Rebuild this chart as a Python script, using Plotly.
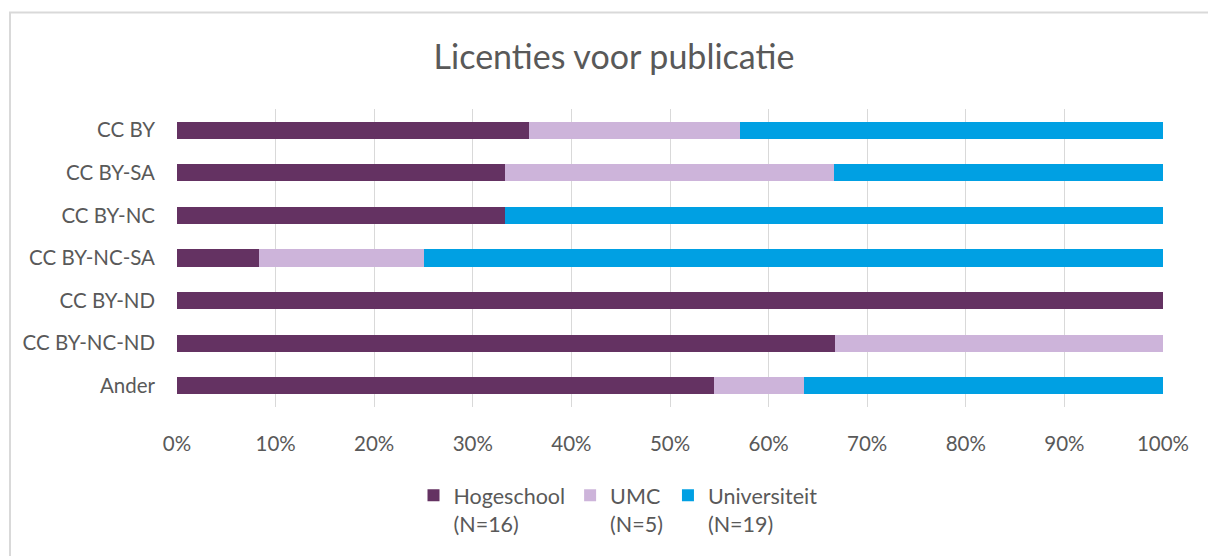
import plotly.graph_objects as go

categories = ["CC BY", "CC BY-SA", "CC BY-NC", "CC BY-NC-SA", "CC BY-ND", "CC BY-NC-ND", "Ander"]
hogeschool = [35.7, 33.3, 33.3, 8.3, 100.0, 66.7, 54.5]
umc = [21.4, 33.3, 0.0, 16.7, 0.0, 33.3, 9.1]
universiteit = [42.9, 33.4, 66.7, 75.0, 0.0, 0.0, 36.4]
series_names = ["Hogeschool<br>(N=16)", "UMC<br>(N=5)", "Universiteit<br>(N=19)"]
colors = ["#643262", "#CDB4DA", "#00A0E3"]
x_ticks = [0, 10, 20, 30, 40, 50, 60, 70, 80, 90, 100]
x_ticklabels = [f"{v}%" for v in x_ticks]

W, H = 1208, 556
L, R, T, B = 177, 45, 109, 144
FONT = "Lato"

fig = go.Figure()
for name, vals, col in zip(series_names, [hogeschool, umc, universiteit], colors):
    fig.add_trace(go.Bar(
        y=categories, x=vals, name=name, orientation="h",
        marker=dict(color=col, line=dict(width=0)),
    ))

pw = W - L - R
ph = H - T - B
def px_x(p):
    return (p - L) / pw
def px_y(p):
    return (H - B - p) / ph

fig.update_layout(
    width=W, height=H,
    margin=dict(l=L, r=R, t=T, b=B),
    barmode="stack", bargap=0.6,
    plot_bgcolor="white", paper_bgcolor="white",
    font=dict(family=FONT, color="#595959", size=20.5),
    title=dict(text="Licenties voor publicatie", x=px_x(614), xref="paper", xanchor="center",
               y=1 - 57 / H, yanchor="middle", font=dict(family=FONT, size=34, color="#595959")),
    xaxis=dict(range=[0, 100], tickvals=x_ticks, ticktext=x_ticklabels,
               showgrid=True, gridcolor="#D9D9D9", gridwidth=1, zeroline=False,
               showline=False, ticks="", ticklabelstandoff=22, fixedrange=True),
    yaxis=dict(autorange="reversed", showgrid=False, zeroline=False, showline=False,
               ticks="", ticklabelstandoff=21),
    legend=dict(orientation="h", x=px_x(618), xanchor="center", y=px_y(481), yanchor="top",
                font=dict(family=FONT, size=21.5, color="#595959"), valign="top", traceorder="normal",
                itemwidth=30),
    showlegend=True,
    shapes=[dict(type="rect", xref="paper", yref="paper",
                 x0=px_x(10), x1=px_x(1260), y0=px_y(700), y1=px_y(11),
                 line=dict(color="#D9D9D9", width=2), fillcolor="rgba(0,0,0,0)", layer="below")],
)

fig.write_html("out.html", config={"displayModeBar": False},
               post_script="document.body.style.margin='0px';")
